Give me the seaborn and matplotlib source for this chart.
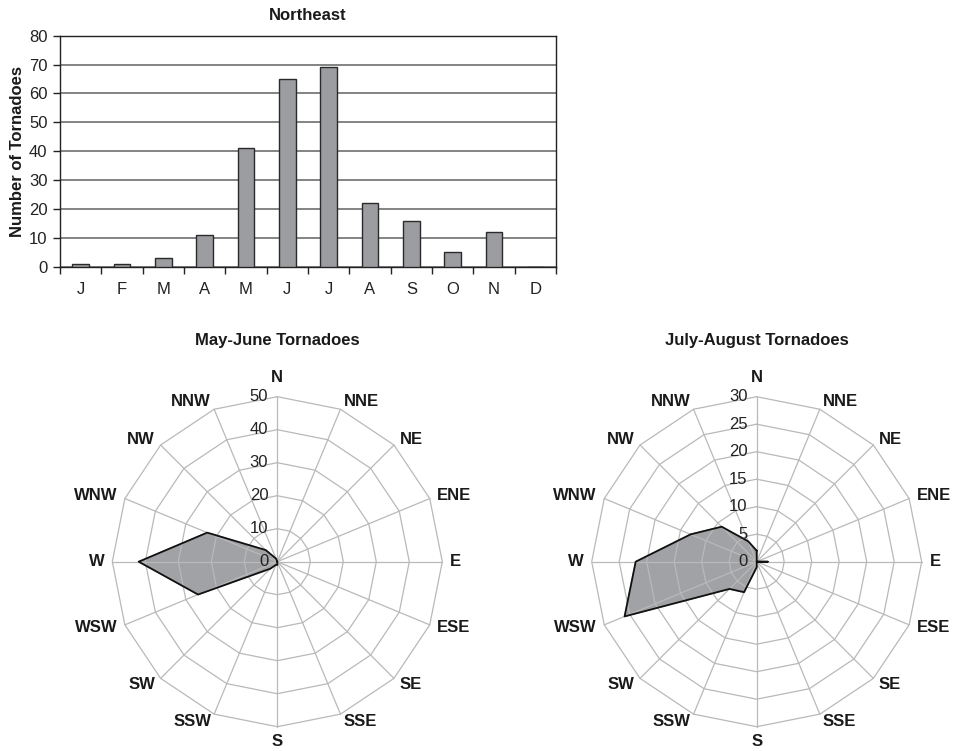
import numpy as np
import pandas as pd
import matplotlib
matplotlib.use("Agg")
import matplotlib.pyplot as plt
import seaborn as sns

# ---------------- data ----------------
months = ["J", "F", "M", "A", "M", "J", "J", "A", "S", "O", "N", "D"]
monthly_counts = [1, 1, 3, 11, 41, 65, 69, 22, 16, 5, 12, 0]

directions = ["N", "NNE", "NE", "ENE", "E", "ESE", "SE", "SSE",
              "S", "SSW", "SW", "WSW", "W", "WNW", "NW", "NNW"]
may_june = [0, 0, 0, 0, 0, 0, 0, 0, 1, 1, 3, 26, 42, 23, 5, 1]
july_aug = [2, 0, 0, 0, 2, 0, 0, 0, 1, 6, 7, 26, 22, 13, 9, 4]

may_june_ticks = [0, 10, 20, 30, 40, 50]
july_aug_ticks = [0, 5, 10, 15, 20, 25, 30]

bar_title = "Northeast"
ylabel = "Number of Tornadoes"
radar_titles = ["May-June Tornadoes", "July-August Tornadoes"]

# ---------------- style ----------------
sns.set_style("white")
plt.rcParams["font.family"] = ["Liberation Sans", "DejaVu Sans"]

W, H = 960, 751
fig = plt.figure(figsize=(W / 100, H / 100), dpi=100)

def fig_rect(x0, y0, x1, y1):
    return [x0 / W, 1 - y1 / H, (x1 - x0) / W, (y1 - y0) / H]

# ---------------- bar chart ----------------
ax = fig.add_axes(fig_rect(60, 35.7, 556, 266.7))
df = pd.DataFrame({"idx": np.arange(len(months)), "count": monthly_counts})
sns.barplot(data=df, x="idx", y="count", color="#9c9da1", saturation=1,
            edgecolor="#2a2a2a", linewidth=1.0, width=0.40, ax=ax, zorder=3)
ax.set_xlim(-0.5, len(months) - 0.5)
ax.set_ylim(0, 80)
ax.set_yticks(range(0, 81, 10))
ax.set_xticks(np.arange(len(months)))
ax.set_xticklabels(months, fontsize=12, color="#222222")
ax.set_xticks(np.arange(-0.5, len(months), 1.0), minor=True)
ax.tick_params(axis="x", which="major", length=0, pad=11)
ax.tick_params(axis="x", which="minor", length=5, width=1, color="#222222",
               direction="out", bottom=True)
ax.tick_params(axis="y", which="major", length=5, width=1, color="#222222",
               direction="out", left=True, pad=4, labelsize=12,
               labelcolor="#222222")
ax.yaxis.grid(True, color="#6e6e6e", linewidth=1.2, zorder=0)
ax.set_axisbelow(True)
ax.set_xlabel("")
ax.set_ylabel(ylabel, fontsize=12, fontweight="bold", labelpad=3,
              color="#1a1a1a")
ax.set_title(bar_title, fontsize=12, fontweight="bold", pad=11,
             color="#1a1a1a")
for s in ["left", "bottom", "top", "right"]:
    ax.spines[s].set_color("#222222")
    ax.spines[s].set_linewidth(1.0)

# ---------------- radar charts ----------------
theta = np.deg2rad(np.arange(len(directions)) * 360.0 / len(directions))
grid_color = "#b9b9b9"

def radar(cx, values, ticks, title):
    cy, R = 561.7, 165.0
    rax = fig.add_axes(fig_rect(cx - R, cy - R, cx + R, cy + R), projection="polar")
    rax.set_theta_zero_location("N")
    rax.set_theta_direction(-1)
    rmax = ticks[-1]
    rax.set_ylim(0, rmax)
    rax.axis("off")

    th_c = np.append(theta, theta[0])
    v_c = np.append(values, values[0])
    rax.fill(th_c, v_c, color="#a1a2a5", zorder=1, clip_on=False)

    # polygon rings
    for t in ticks[1:]:
        rax.plot(th_c, [t] * len(th_c), color=grid_color, lw=0.9,
                 zorder=2, clip_on=False)
    # spokes
    for th in theta:
        rax.plot([th, th], [0, rmax], color=grid_color, lw=0.9,
                 zorder=2, clip_on=False)

    rax.plot(th_c, v_c, color="#111111", lw=1.3, zorder=3, clip_on=False)

    # radial labels
    for t in ticks:
        rax.annotate(str(t), xy=(0, t), xytext=(-9, 0), textcoords="offset pixels",
                     ha="right", va="center", fontsize=12, color="#222222",
                     annotation_clip=False, zorder=4)

    # direction labels
    gap = 8
    for th, lab in zip(theta, directions):
        dx, dy = np.sin(th), np.cos(th)
        if abs(dx) < 1e-6:
            ha = "center"
            off = (0, 19) if dy > 0 else (0, -15)
        else:
            ha = "left" if dx > 0 else "right"
            off = (dx * gap, dy * gap)
        rax.annotate(lab, xy=(th, rmax), xytext=off, textcoords="offset pixels",
                     ha=ha, va="center", fontsize=12, fontweight="bold",
                     color="#1a1a1a", annotation_clip=False)

    fig.text(cx / W, 1 - 340 / H, title, ha="center", va="center",
             fontsize=12, fontweight="bold", color="#1a1a1a")

radar(277.3, may_june, may_june_ticks, radar_titles[0])
radar(756.7, july_aug, july_aug_ticks, radar_titles[1])

fig.savefig("out.png", dpi=100)
